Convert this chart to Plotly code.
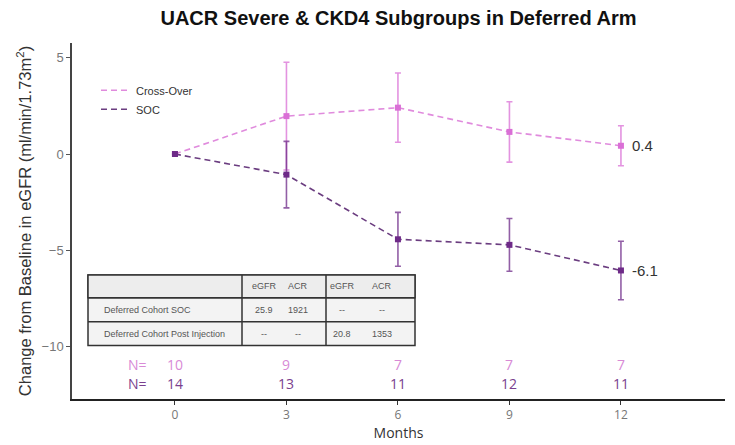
import plotly.graph_objects as go

months = [0, 3, 6, 9, 12]
cross_over = [0.0, 1.97, 2.41, 1.15, 0.43]
cross_over_err = [0.0, 2.8, 1.8, 1.57, 1.04]
soc = [0.0, -1.07, -4.43, -4.72, -6.05]
soc_err = [0.0, 1.73, 1.4, 1.37, 1.52]
n_cross_over = [10, 9, 7, 7, 7]
n_soc = [14, 13, 11, 12, 11]
end_labels = ["0.4", "-6.1"]

table_header = ["", "eGFR", "ACR", "eGFR", "ACR"]
table_rows = [
    ["Deferred Cohort SOC", "25.9", "1921", "--", "--"],
    ["Deferred Cohort Post Injection", "--", "--", "20.8", "1353"],
]

PINK = "#DA6FD6"
PINK_LINE = "#E08BDD"
PURPLE = "#6E2A88"
PURPLE_LINE = "#6B3D80"

fig = go.Figure()

fig.add_trace(go.Scatter(
    x=months, y=cross_over, mode="lines+markers", showlegend=False,
    line=dict(color=PINK_LINE, width=1.6, dash="6px,4px"),
    marker=dict(symbol="square", size=6, color=PINK),
    error_y=dict(type="data", array=cross_over_err, visible=True,
                 color="rgba(218,111,214,0.75)", thickness=1.6, width=3),
))
fig.add_trace(go.Scatter(
    x=months, y=soc, mode="lines+markers", showlegend=False,
    line=dict(color=PURPLE_LINE, width=1.6, dash="6px,4px"),
    marker=dict(symbol="square", size=6, color=PURPLE),
    error_y=dict(type="data", array=soc_err, visible=True,
                 color="rgba(110,42,136,0.75)", thickness=1.6, width=3),
))
# legend entries
fig.add_trace(go.Scatter(x=[None], y=[None], mode="lines", name="Cross-Over",
                         line=dict(color=PINK_LINE, width=1.6, dash="6px,4px")))
fig.add_trace(go.Scatter(x=[None], y=[None], mode="lines", name="SOC",
                         line=dict(color=PURPLE_LINE, width=1.6, dash="6px,4px")))

# end labels
fig.add_annotation(x=months[-1], y=cross_over[-1], text=end_labels[0], showarrow=False,
                   xanchor="left", yanchor="middle", xshift=9,
                   font=dict(size=15, color="#333", family="Liberation Sans"))
fig.add_annotation(x=months[-1], y=soc[-1], text=end_labels[1], showarrow=False,
                   xanchor="left", yanchor="middle", xshift=9,
                   font=dict(size=15, color="#333", family="Liberation Sans"))

# N rows
NPINK = "#D88AD6"
NPURP = "#7A3F8E"
fig.add_annotation(x=-1.02, y=-10.93, text="N=", showarrow=False,
                   font=dict(size=14, color=NPINK, family="Open Sans"))
fig.add_annotation(x=-1.02, y=-11.9, text="N=", showarrow=False,
                   font=dict(size=14, color=NPURP, family="Open Sans"))
for m, a, b in zip(months, n_cross_over, n_soc):
    fig.add_annotation(x=m, y=-10.93, text=str(a), showarrow=False,
                       font=dict(size=14, color=NPINK, family="Open Sans"))
    fig.add_annotation(x=m, y=-11.9, text=str(b), showarrow=False,
                       font=dict(size=14, color=NPURP, family="Open Sans"))

# table (pixel layout -> paper coords)
L, R, T, B = 72, 725, 43, 402
def px(x):
    return (x - L) / (R - L)
def py(y):
    return (B - y) / (B - T)

tx0, tx1 = 88, 415
ty = [277, 300, 324, 348]
col_lines = [242, 326]
fig.add_shape(type="rect", xref="paper", yref="paper", x0=px(tx0), x1=px(tx1),
              y0=py(ty[0]), y1=py(ty[3]), fillcolor="#F3F3F3",
              line=dict(color="#333", width=1.5), layer="above")
fig.add_shape(type="rect", xref="paper", yref="paper", x0=px(tx0), x1=px(tx1),
              y0=py(ty[0]), y1=py(ty[1]), fillcolor="#EDEDED",
              line=dict(color="#333", width=1.5), layer="above")
for yy in ty[1:3]:
    fig.add_shape(type="line", xref="paper", yref="paper", x0=px(tx0), x1=px(tx1),
                  y0=py(yy), y1=py(yy), line=dict(color="#333", width=1.5), layer="above")
for xx in col_lines:
    fig.add_shape(type="line", xref="paper", yref="paper", x0=px(xx), x1=px(xx),
                  y0=py(ty[0]), y1=py(ty[3]), line=dict(color="#333", width=1.5), layer="above")

col_x = [102, 264, 298, 342, 382]
tfont = dict(size=9, color="#555", family="Liberation Sans")
for i, h in enumerate(table_header):
    if h:
        fig.add_annotation(xref="paper", yref="paper", x=px(col_x[i]), y=py((ty[0] + ty[1]) / 2),
                           text=h, showarrow=False, xanchor="center", yanchor="middle", font=tfont)
for r, row in enumerate(table_rows):
    yc = py((ty[r + 1] + ty[r + 2]) / 2)
    for i, v in enumerate(row):
        fig.add_annotation(xref="paper", yref="paper", x=px(col_x[i]), y=yc, text=v,
                           showarrow=False, xanchor="left" if i == 0 else "center",
                           yanchor="middle", font=tfont)

fig.update_layout(
    width=735, height=445,
    margin=dict(l=L, r=735 - R, t=T, b=445 - B),
    paper_bgcolor="white", plot_bgcolor="white",
    title=dict(text="<b>UACR Severe &amp; CKD4 Subgroups in Deferred Arm</b>",
               x=0.5, xref="paper", y=1 - 18 / 445, yanchor="middle", xanchor="center",
               font=dict(size=20, color="#111", family="Liberation Sans")),
    legend=dict(x=px(96), y=py(76), xanchor="left", yanchor="top",
                bgcolor="rgba(0,0,0,0)", font=dict(size=11, color="#333", family="Liberation Sans"),
                tracegroupgap=0, itemwidth=30),
    xaxis=dict(range=[-2.77, 14.8], tickvals=months, ticktext=[str(m) for m in months],
               showgrid=False, zeroline=False, showline=True, linecolor="#222", linewidth=1.5,
               ticks="outside", ticklen=4, tickcolor="#333", tickwidth=1,
               tickfont=dict(size=12, color="#777", family="Open Sans"),
               title=dict(text="Months", font=dict(size=14, color="#333", family="Open Sans"), standoff=2)),
    yaxis=dict(range=[-12.73, 5.77], tickvals=[5, 0, -5, -10],
               showgrid=False, zeroline=False, showline=True, linecolor="#444", linewidth=1.5,
               ticks="outside", ticklen=4, tickcolor="#555", tickwidth=1,
               tickfont=dict(size=13, color="#777", family="Liberation Sans"),
               title=dict(text="Change from Baseline in eGFR (ml/min/1.73m<sup>2</sup>)",
                          font=dict(size=16.5, color="#333", family="Liberation Sans"), standoff=6)),
)

fig.write_html("out.html")
